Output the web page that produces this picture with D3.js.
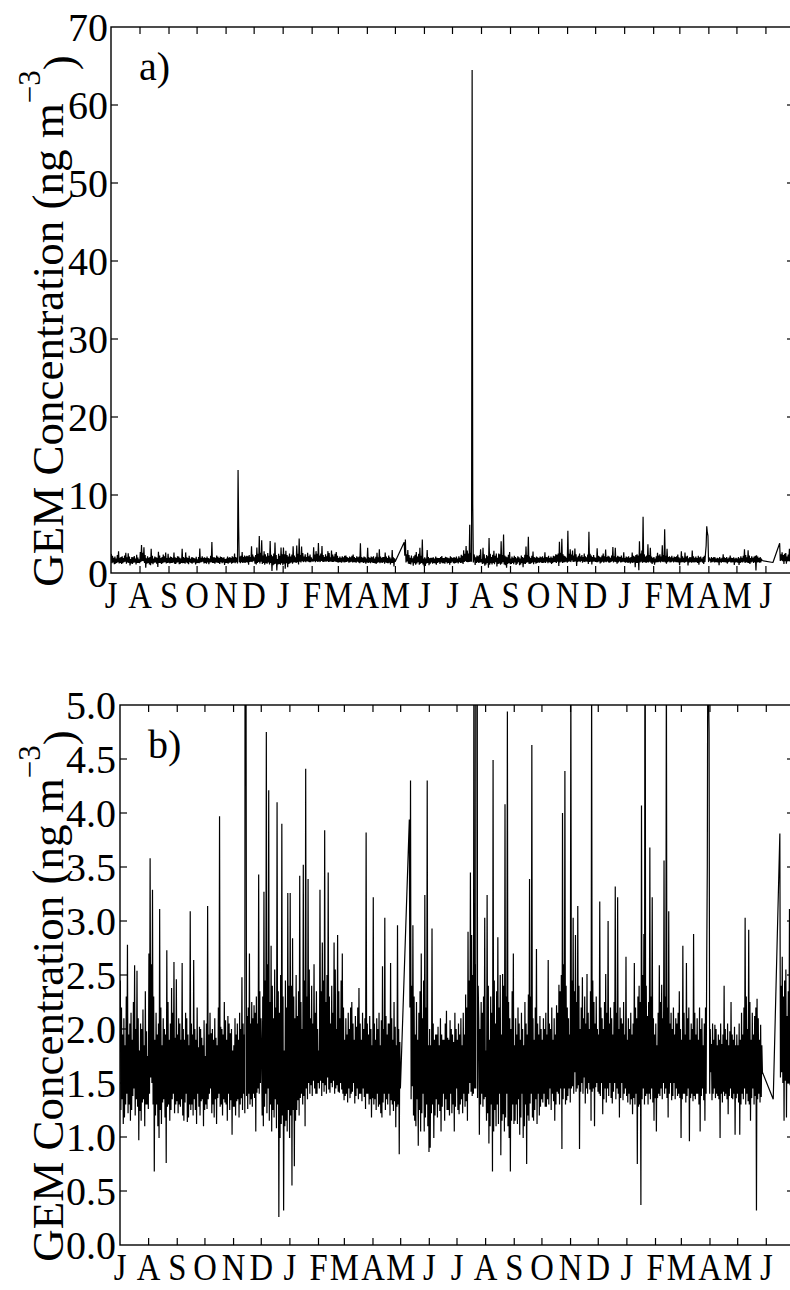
<!DOCTYPE html>
<html>
<head>
<meta charset="utf-8">
<script src="https://cdn.jsdelivr.net/npm/d3@7"></script>
<style>
  body { margin: 0; background: #fff; }
  svg  { display: block; }
</style>
</head>
<body>
<svg id="chart" width="790" height="1290" font-family="'Liberation Serif', 'Times New Roman', Times, serif"></svg>
<script>
// ── Data: GEM readings, month by month (ng m-3), null = no reading ──
const monthLabels = ['J','A','S','O','N','D','J','F','M','A','M','J','J','A','S','O','N','D','J','F','M','A','M','J'];
const yTicksA = [0, 10, 20, 30, 40, 50, 60, 70];
const yTicksB = [0, 0.5, 1, 1.5, 2, 2.5, 3, 3.5, 4, 4.5, 5];

const jul1 = [2.45,1.25,2.20,1.35,1.95,1.12,2.10,1.18,1.85,1.30,2.30,1.40,2.78,1.22,1.95,1.30,2.05,1.15,2.15,1.25,1.90,1.38,2.25,1.45,2.59,1.20,2.00,1.35,2.54,1.28,2.10,0.97,1.80,1.24,2.05,1.15,2.00,1.32,2.18,1.35,1.85,1.10,2.35,1.30,1.98,1.30,1.75,1.26];
const aug1 = [2.70,1.40,3.58,1.55,2.60,1.50,3.29,1.30,2.30,0.68,1.90,1.20,2.15,1.30,1.95,1.10,2.05,0.99,3.11,1.25,2.20,1.12,1.85,1.32,2.10,1.35,2.00,1.18,1.95,0.76,2.73,1.28,2.25,1.30,1.90,1.15,2.05,1.25,2.38,1.35,2.15,1.40,2.62,1.22,1.92,1.30,2.46,1.33];
const sep1 = [1.95,1.22,2.10,1.30,2.05,1.28,1.90,1.35,2.61,1.20,2.00,1.15,1.90,1.32,2.15,1.40,2.10,1.14,1.95,1.18,1.85,1.30,3.09,1.25,2.05,1.30,1.95,1.20,2.64,1.35,2.00,1.25,1.90,1.12,2.20,1.40,1.83,1.28,2.02,1.20,2.00,1.33,1.92,1.35,1.85,1.10,2.08,1.25];
const oct1 = [1.75,1.30,2.05,1.26,3.14,1.35,1.95,1.40,2.15,1.45,1.96,1.22,2.00,1.30,1.90,1.18,2.10,1.35,1.92,1.12,1.85,1.36,2.20,1.40,3.97,1.28,2.02,1.30,2.00,1.20,1.95,1.35,2.25,1.32,2.08,1.30,1.90,1.15,2.12,1.40,2.05,1.25,1.96,1.34,2.00,1.02,1.80,1.28];
const nov1 = [1.85,1.28,2.10,1.20,1.95,1.33,2.05,1.35,1.90,1.18,2.15,1.30,2.00,1.36,2.48,1.25,2.05,1.40,1.95,1.22,13.2,5.9,1.38,2.12,1.26,2.20,1.40,2.70,1.30,2.05,1.35,2.25,1.28,2.10,1.40,2.22,1.36,2.15,1.05,2.30,1.41,2.05,1.45,3.43,1.40,2.35,1.50,2.10];
const dec1 = [1.80,1.20,2.30,1.10,3.27,1.28,2.45,1.40,4.75,1.22,2.60,1.45,4.21,1.15,2.25,1.30,2.77,1.05,2.40,1.25,2.10,1.18,2.55,1.35,2.20,1.08,4.10,1.30,2.35,0.26,2.15,0.99,2.50,1.12,3.90,1.20,2.30,0.32,1.80,1.10,2.45,1.15,2.20,1.05,3.26,1.25,2.40,0.99];
const jan2 = [3.26,1.20,2.40,0.55,2.84,1.25,2.30,0.73,2.10,1.15,2.50,1.25,2.12,1.34,2.35,1.20,3.42,1.36,2.25,1.40,2.00,1.30,3.52,1.38,2.45,1.10,4.41,1.45,2.30,1.35,3.39,1.50,2.55,1.40,2.10,1.48,2.40,1.38,2.05,1.52,2.60,1.45,2.15,1.40,2.35,1.40,2.00,1.50];
const feb2 = [1.80,1.45,3.29,1.52,2.35,1.38,2.80,1.50,2.45,1.42,3.84,1.48,2.25,1.40,2.50,1.55,3.45,1.44,2.30,1.41,2.05,1.50,2.40,1.46,2.15,1.52,2.80,1.40,2.55,1.45,2.00,1.48,2.87,1.42,2.35,1.41,2.10,1.50,2.45,1.44,2.70,1.40,2.20,1.34];
const mar2 = [1.90,1.38,2.10,1.40,1.95,1.32,2.15,1.45,2.00,1.36,2.20,1.40,2.25,1.42,2.05,1.50,1.90,1.31,2.12,1.38,2.02,1.45,2.20,1.35,2.38,1.40,2.05,1.40,1.90,1.33,2.15,1.45,2.00,1.37,2.10,1.26,3.82,1.40,2.05,1.40,1.95,1.30,2.12,1.35,2.00,1.18,1.85,1.36];
const apr2 = [3.22,1.30,2.05,1.35,1.90,1.25,2.10,1.40,2.00,1.28,2.15,1.30,1.85,1.22,2.08,1.18,2.58,1.32,2.00,1.40,3.03,1.25,2.12,1.35,1.95,1.30,2.05,1.40,2.05,1.20,2.61,1.34,2.10,1.30,1.90,1.24,2.25,1.33,2.02,1.09,1.85,1.28,2.96,1.30,2.00,0.84,1.88,1.45];
const may2 = [null,null,null,null,null,null,null,null,null,null,null,null,null,null,3.94,2.20,4.30,1.35,2.40,1.47,2.96,1.20,2.30,1.15,1.95,1.10,2.25,1.35,1.90,0.92,2.15,1.25,2.35,1.05,2.70,1.22,2.10,1.40,2.45,1.05,3.24,1.18,2.20,1.30,4.30,1.10,1.85,0.86];
const jun2 = [2.00,0.90,1.85,1.22,2.93,1.30,2.05,0.99,1.90,1.20,1.95,1.35,1.95,1.18,2.02,1.30,1.85,1.24,2.10,1.05,1.95,1.28,1.90,1.40,1.90,1.15,2.05,1.35,2.17,1.25,1.92,1.25,1.90,1.20,2.08,1.40,2.00,1.22,1.95,1.30,1.88,1.05,2.15,1.28,2.00,1.45];
const jul2 = [1.90,1.25,2.05,1.21,1.95,1.30,2.10,1.35,1.85,1.22,2.15,1.40,1.95,1.28,2.32,1.33,2.20,1.15,2.90,1.40,2.45,1.50,3.45,1.42,2.87,1.38,2.50,1.40,6.2,1.45,2.60,1.45,64.5,8.8,1.36,2.40,2.10,1.02,2.00,1.30,2.25,1.40,2.15,1.28,2.30,1.35,3.03,1.37];
const aug2 = [1.80,1.15,3.24,1.22,2.40,0.94,1.90,1.10,2.30,1.30,2.15,0.68,4.49,1.05,2.45,1.25,2.05,1.10,2.35,1.30,2.85,1.12,2.20,1.40,2.50,0.83,1.95,1.15,2.51,1.21,2.40,1.05,4.08,1.18,2.30,1.40,4.94,1.10,2.25,0.99,2.10,0.68,2.00,1.15,2.35,1.30,2.70,1.12];
const sep2 = [1.85,1.15,2.10,1.30,1.95,1.12,2.20,1.35,2.05,1.02,1.90,1.18,2.15,1.40,2.00,0.99,1.85,1.10,2.25,1.30,2.05,0.75,1.95,1.20,2.32,1.15,3.39,1.31,2.30,1.40,4.63,1.18,2.10,1.15,1.90,1.25,2.20,1.35,2.74,1.12,2.05,1.40,1.95,1.20,2.12,1.28,2.00,1.35];
const oct2 = [1.90,1.32,2.10,1.40,2.00,1.28,2.15,1.28,1.95,1.35,2.64,1.30,2.05,1.45,2.00,1.25,2.20,1.40,1.90,1.33,2.10,1.15,1.95,1.30,2.22,1.42,2.15,1.40,2.41,1.30,2.35,1.45,2.50,0.89,4.00,1.35,2.60,1.45,4.39,1.30,2.40,1.34,2.20,1.38,2.10,1.45,1.95,1.32];
const nov2 = [5.4,1.45,2.45,1.47,3.03,1.40,2.35,1.60,2.87,1.42,2.25,1.45,3.14,1.48,2.40,0.89,2.00,1.42,2.20,1.50,2.48,1.40,2.10,1.55,2.30,1.31,2.05,1.45,2.51,1.40,2.15,1.50,2.00,1.44,2.35,1.15,5.3,1.42,2.45,1.45,2.25,1.10,2.05,1.46,2.30,1.50,2.00,1.42];
const dec2 = [1.95,1.40,3.18,1.38,2.20,1.50,2.10,1.21,2.00,1.35,2.25,1.45,2.51,1.32,2.15,1.45,3.00,1.38,2.05,1.50,2.20,1.36,2.10,1.31,1.95,1.42,2.25,1.50,3.32,1.35,2.15,1.45,3.22,1.40,2.00,1.18,2.20,1.36,2.10,1.50,2.05,1.34,2.25,1.40,1.95,1.45,2.67,1.38];
const jan3 = [1.90,1.32,2.10,1.40,2.00,1.30,2.15,1.35,1.95,1.21,2.05,1.36,2.61,1.30,2.20,1.40,2.10,0.75,2.30,1.28,2.40,1.30,2.25,0.37,4.07,1.35,2.50,1.45,2.88,1.30,7.2,1.38,2.40,1.40,2.12,1.30,2.25,1.40,3.68,1.35,2.30,1.45,3.22,1.32,2.10,1.15,1.95,1.36];
const feb3 = [2.05,1.05,1.85,1.36,2.15,1.40,2.59,1.38,2.25,1.45,2.41,1.35,2.10,1.50,3.56,1.40,2.30,1.45,5.6,1.36,2.20,1.18,3.09,1.40,2.05,1.50,2.15,1.34,2.00,1.38,2.20,1.50,1.95,1.35,2.10,1.45,2.05,1.38,2.15,1.40,2.35,1.36,2.00,0.99];
const mar3 = [1.90,1.35,2.77,1.40,2.15,1.40,1.95,1.32,2.61,1.38,2.10,1.45,2.20,0.96,1.90,1.36,2.05,1.40,2.00,1.33,2.88,1.38,2.15,1.35,1.95,1.40,2.10,1.40,1.90,1.30,2.20,1.05,2.00,1.38,2.10,1.45,1.85,1.34,2.05,1.15,2.20,1.40,2.60,3.50,6.0,5.2,4.75,1.40];
const apr3 = [2.00,1.60,1.86,1.34,2.05,1.40,1.90,1.45,2.04,1.36,2.00,1.40,1.85,1.38,1.95,1.35,1.90,0.99,2.05,1.40,1.86,1.32,1.95,1.42,2.40,1.38,2.00,1.40,1.90,1.35,2.05,1.21,1.85,1.38,1.98,1.45,2.25,1.36,1.95,1.35,1.90,1.40,2.02,1.02,1.85,1.36,1.95,1.40];
const may3 = [1.85,1.32,2.05,1.02,1.90,1.30,2.15,1.40,1.95,1.35,2.20,1.45,3.03,1.30,2.30,1.40,2.00,1.33,2.92,1.30,2.25,1.15,1.90,1.36,2.15,1.45,1.95,1.30,2.12,1.38,2.20,0.32,2.28,1.35,2.10,1.40,1.90,1.32,2.04,1.37,1.85,1.60,null,null,null,null,null,null];
const jun3 = [null,null,null,null,null,null,null,null,null,null,null,1.35,null,null,null,null,null,null,null,null,null,null,3.81,1.55,2.40,1.60,2.67,1.50,2.30,1.15,2.45,1.52,2.55,1.18,2.12,1.50,2.35,1.50,3.11,1.48,2.20,1.52,2.45,1.50,2.30,1.55];

const monthly = [jul1, aug1, sep1, oct1, nov1, dec1, jan2, feb2, mar2, apr2, may2, jun2,
                 jul2, aug2, sep2, oct2, nov2, dec2, jan3, feb3, mar3, apr3, may3, jun3];

(function () {
  const svg = d3.select('#chart');
  const t0 = new Date(2005, 6, 1);
  const t1 = d3.timeMonth.offset(t0, 24);
  const monthStarts = d3.timeMonth.range(t0, t1);

  // spread each month's readings evenly across that month; gaps are bridged by the line
  const series = [];
  monthly.forEach((vals, m) => {
    const a = monthStarts[m], b = d3.timeMonth.offset(a, 1);
    vals.forEach((v, i) => {
      if (v == null) return;
      series.push({ t: new Date(+a + (i + 0.5) / vals.length * (b - a)), v });
    });
  });

  const FS = 40, TICK = 7;

  const panels = [
    { tag: 'a)', x0: 111, x1: 794, y0: 27,  y1: 573,  ticks: yTicksA, fmt: d3.format('d'),   pad: 3 },
    { tag: 'b)', x0: 120, x1: 794, y0: 705, y1: 1245, ticks: yTicksB, fmt: d3.format('.1f'), pad: 4 }
  ];

  panels.forEach((p, k) => {
    const x = d3.scaleTime().domain([t0, t1]).range([p.x0, p.x1]);
    const y = d3.scaleLinear().domain([p.ticks[0], p.ticks[p.ticks.length - 1]]).range([p.y1, p.y0]);
    const g = svg.append('g');

    g.append('clipPath').attr('id', 'clip' + k)
      .append('rect')
        .attr('x', p.x0).attr('y', p.y0)
        .attr('width', p.x1 - p.x0).attr('height', p.y1 - p.y0);

    // ── series ──
    g.append('path')
      .datum(series)
      .attr('clip-path', `url(#clip${k})`)
      .attr('fill', 'none')
      .attr('stroke', '#000')
      .attr('stroke-width', 1.2)
      .attr('stroke-linejoin', 'bevel')
      .attr('d', d3.line().x(d => x(d.t)).y(d => y(d.v)));

    // ── frame ──
    g.append('rect')
      .attr('x', p.x0).attr('y', p.y0)
      .attr('width', p.x1 - p.x0).attr('height', p.y1 - p.y0)
      .attr('fill', 'none').attr('stroke', '#000').attr('stroke-width', 1.4);

    // inward ticks: months on top/bottom, values on left/right
    const mt = monthStarts.slice(1);
    g.append('g').selectAll('line').data(mt).join('line')
      .attr('x1', d => x(d)).attr('x2', d => x(d))
      .attr('y1', p.y0).attr('y2', p.y0 + TICK)
      .attr('stroke', '#000').attr('stroke-width', 1.2);
    g.append('g').selectAll('line').data(mt).join('line')
      .attr('x1', d => x(d)).attr('x2', d => x(d))
      .attr('y1', p.y1).attr('y2', p.y1 - TICK)
      .attr('stroke', '#000').attr('stroke-width', 1.2);

    const vt = p.ticks.slice(1, -1);
    g.append('g').selectAll('line').data(vt).join('line')
      .attr('x1', p.x0).attr('x2', p.x0 + TICK)
      .attr('y1', d => y(d)).attr('y2', d => y(d))
      .attr('stroke', '#000').attr('stroke-width', 1.2);
    g.append('g').selectAll('line').data(vt).join('line')
      .attr('x1', p.x1).attr('x2', p.x1 - TICK)
      .attr('y1', d => y(d)).attr('y2', d => y(d))
      .attr('stroke', '#000').attr('stroke-width', 1.2);

    // ── tick labels ──
    g.append('g').selectAll('text').data(p.ticks).join('text')
      .attr('x', p.x0 - p.pad)
      .attr('y', d => y(d))
      .attr('dy', '0.34em')
      .attr('text-anchor', 'end')
      .attr('font-size', FS)
      .text(d => p.fmt(d));

    // month letters, slightly condensed so neighbours do not collide
    g.append('g').selectAll('text').data(monthStarts).join('text')
      .attr('transform', d => `translate(${x(d)},${p.y1 + 35}) scale(0.86,1)`)
      .attr('text-anchor', 'middle')
      .attr('font-size', 38)
      .text((d, i) => monthLabels[i]);

    // ── panel tag ──
    g.append('text')
      .attr('x', p.x0 + 28).attr('y', p.y0 + 53)
      .attr('font-size', FS)
      .text(p.tag);

    // ── y label ──
    const lab = g.append('text')
      .attr('transform', `translate(63,${(p.y0 + p.y1) / 2 + 21}) rotate(-90)`)
      .attr('text-anchor', 'middle')
      .attr('font-size', 45);
    lab.append('tspan').text('GEM Concentration (ng m');
    lab.append('tspan').attr('dy', '-0.75em').attr('font-size', 31).text('\u22123');
    lab.append('tspan').attr('dy', '0.75em').text(')');
  });
})();
</script>
</body>
</html>
